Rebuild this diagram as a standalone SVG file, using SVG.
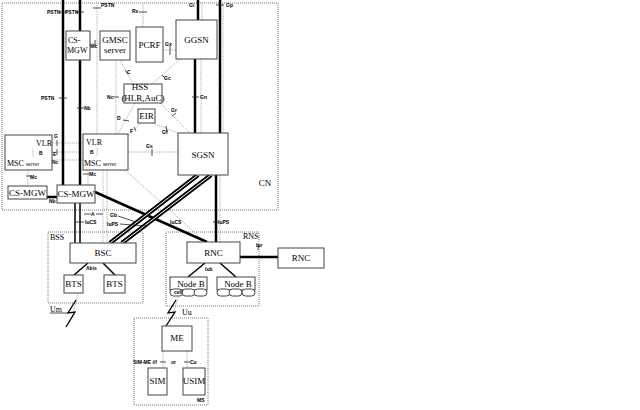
<svg xmlns="http://www.w3.org/2000/svg" width="640" height="410" viewBox="0 0 640 410">
<defs>
<style>
.box{fill:#fff;stroke:#444;stroke-width:1}
.dom{fill:none;stroke:#777;stroke-width:1;stroke-dasharray:1 1}
.sig{fill:none;stroke:#999;stroke-width:0.8;stroke-dasharray:1.2 1}
.thk{stroke:#000;stroke-width:2.5;fill:none}
.med{stroke:#000;stroke-width:1.5;fill:none}
.tk{stroke:#222;stroke-width:0.8}
.dblo{stroke:#000;stroke-width:4.5;fill:none}
.dbli{stroke:#fff;stroke-width:1;fill:none}
.n{font-family:"Liberation Serif",serif;font-size:9px;text-anchor:middle;fill:#000}
.s{font-family:"Liberation Serif",serif;font-size:8px;fill:#000}
.i{font-family:"Liberation Sans",sans-serif;font-size:5px;font-weight:bold;fill:#000}
</style>
</defs>
<rect width="640" height="410" fill="#fff"/>

<g id="domains">
<rect class="dom" x="2" y="3" width="276" height="207"/>
<text class="n" x="265" y="186">CN</text>
<rect class="dom" x="48" y="232" width="95" height="71"/>
<text class="s" x="50" y="240">BSS</text>
<rect class="dom" x="166" y="232" width="93" height="74"/>
<text class="s" x="243" y="239">RNS</text>
<rect class="dom" x="134" y="318" width="74" height="87"/>
<text class="i" x="197" y="402">MS</text>
</g>

<g id="connectors">
<line class="sig" x1="97" y1="3" x2="97" y2="134"/>
<line class="sig" x1="143" y1="3" x2="143" y2="27"/>
<line class="sig" x1="202" y1="3" x2="202" y2="20"/>
<line class="sig" x1="223" y1="3" x2="223" y2="133"/>
<line class="sig" x1="90" y1="44" x2="100" y2="44"/>
<line class="sig" x1="163" y1="50" x2="176" y2="50"/>
<line class="sig" x1="116" y1="60" x2="116" y2="134"/>
<line class="sig" x1="120" y1="60" x2="133" y2="84"/>
<line class="sig" x1="180" y1="59" x2="152" y2="84"/>
<line class="sig" x1="135" y1="103" x2="118" y2="134"/>
<line class="sig" x1="160" y1="103" x2="190" y2="133"/>
<line class="sig" x1="141" y1="123" x2="128" y2="136"/>
<line class="sig" x1="153" y1="123" x2="180" y2="134"/>
<line class="sig" x1="201" y1="59" x2="201" y2="133"/>
<line class="sig" x1="128" y1="152" x2="178" y2="152"/>
<line class="sig" x1="52" y1="143" x2="83" y2="143"/>
<line class="sig" x1="52" y1="152" x2="83" y2="152"/>
<line class="sig" x1="52" y1="160" x2="83" y2="160"/>
<line class="sig" x1="28" y1="170" x2="28" y2="186"/>
<line class="sig" x1="88" y1="170" x2="88" y2="185"/>
<line class="sig" x1="103" y1="170" x2="103" y2="243"/>
<line class="sig" x1="107" y1="170" x2="107" y2="243"/>
<line class="sig" x1="125" y1="170" x2="205" y2="242"/>
<line class="sig" x1="220" y1="175" x2="220" y2="242"/>
<line class="sig" x1="78" y1="293" x2="72" y2="318"/>
<line class="sig" x1="178" y1="297" x2="172" y2="318"/>
<line class="sig" x1="163" y1="351" x2="163" y2="368"/>
<line class="sig" x1="187" y1="351" x2="187" y2="368"/>

<line class="thk" x1="63" y1="0" x2="63" y2="185"/>
<line class="thk" x1="80" y1="0" x2="80" y2="31"/>
<line class="thk" x1="80" y1="60" x2="80" y2="185"/>
<line class="thk" x1="198" y1="0" x2="198" y2="20"/>
<line class="thk" x1="220" y1="0" x2="220" y2="133"/>
<line class="thk" x1="195" y1="59" x2="195" y2="133"/>
<line class="thk" x1="216" y1="175" x2="216" y2="242"/>
<line class="thk" x1="47" y1="197" x2="57" y2="197"/>
<line class="med" x1="75" y1="203" x2="75" y2="243"/>
<line class="med" x1="80" y1="203" x2="80" y2="243"/>
<line class="thk" x1="95" y1="192" x2="207" y2="242"/>
<line class="dblo" x1="198" y1="175" x2="110" y2="243"/>
<line class="dbli" x1="198" y1="175" x2="110" y2="243"/>
<line class="dblo" x1="211" y1="175" x2="122" y2="243"/>
<line class="dbli" x1="211" y1="175" x2="122" y2="243"/>
<line class="thk" x1="240" y1="257" x2="278" y2="257" stroke-width="3"/>
<line class="med" x1="88" y1="263" x2="74" y2="275"/>
<line class="med" x1="103" y1="263" x2="115" y2="275"/>
<line class="med" x1="205" y1="263" x2="188" y2="277"/>
<line class="med" x1="220" y1="263" x2="236" y2="277"/>
<path d="M76,300 L68,313 L75,312 L66,327" fill="none" stroke="#000" stroke-width="1.3"/>
<path d="M176,300 L168,313 L175,312 L166,326" fill="none" stroke="#000" stroke-width="1.3"/>

<line class="tk" x1="59" y1="12" x2="67" y2="12"/>
<line class="tk" x1="76" y1="12" x2="84" y2="12"/>
<line class="tk" x1="93" y1="8" x2="101" y2="8"/>
<line class="tk" x1="139" y1="12" x2="147" y2="12"/>
<line class="tk" x1="216" y1="5" x2="224" y2="5"/>
<line class="tk" x1="95" y1="40" x2="95" y2="47"/>
<line class="tk" x1="170" y1="46" x2="170" y2="55"/>
<line class="tk" x1="59" y1="98" x2="67" y2="98"/>
<line class="tk" x1="77" y1="108" x2="84" y2="108"/>
<line class="tk" x1="113" y1="97" x2="119" y2="97"/>
<line class="tk" x1="192" y1="97" x2="199" y2="97"/>
<line class="tk" x1="125" y1="70" x2="128" y2="74"/>
<line class="tk" x1="162" y1="75" x2="165" y2="78"/>
<line class="tk" x1="123" y1="120" x2="129" y2="121"/>
<line class="tk" x1="172" y1="116" x2="176" y2="113"/>
<line class="tk" x1="134" y1="127" x2="136" y2="131"/>
<line class="tk" x1="166" y1="126" x2="167" y2="132"/>
<line class="tk" x1="152" y1="149" x2="152" y2="156"/>
<line class="tk" x1="57" y1="140" x2="57" y2="146"/>
<line class="tk" x1="57" y1="149" x2="57" y2="155"/>
<line class="tk" x1="26" y1="176" x2="31" y2="176"/>
<line class="tk" x1="83" y1="174" x2="89" y2="174"/>
<line class="tk" x1="84" y1="214" x2="91" y2="214"/>
<line class="tk" x1="96" y1="214" x2="103" y2="214"/>
<line class="tk" x1="76" y1="222" x2="84" y2="222"/>
<line class="tk" x1="118" y1="216" x2="136" y2="222"/>
<line class="tk" x1="120" y1="224" x2="146" y2="226"/>
<line class="tk" x1="213" y1="222" x2="219" y2="222"/>
<line class="tk" x1="258" y1="244" x2="258" y2="250"/>
<line class="tk" x1="50" y1="313" x2="68" y2="313"/>
<line class="tk" x1="160" y1="362" x2="166" y2="362"/>
<line class="tk" x1="184" y1="362" x2="190" y2="362"/>
</g>

<g id="labels">
<text class="i" x="47" y="14">PSTN</text>
<text class="i" x="65" y="14">PSTN</text>
<text class="i" x="101" y="7">PSTN</text>
<text class="i" x="132" y="13">Rx</text>
<text class="i" x="189" y="7">Gi</text>
<text class="i" x="226" y="7">Gp</text>
<text class="i" x="90" y="48">Mc</text>
<text class="i" x="165" y="46">Gx</text>
<text class="i" x="127" y="74">C</text>
<text class="i" x="164" y="80">Gc</text>
<text class="i" x="41" y="100">PSTN</text>
<text class="i" x="84" y="110">Nb</text>
<text class="i" x="107" y="99">Nc</text>
<text class="i" x="200" y="99">Gn</text>
<text class="i" x="117" y="120">D</text>
<text class="i" x="171" y="112">Gr</text>
<text class="i" x="130" y="133">F</text>
<text class="i" x="162" y="134">Gf</text>
<text class="i" x="146" y="148">Gs</text>
<text class="i" x="54" y="138">G</text>
<text class="i" x="53" y="156">E</text>
<text class="i" x="52" y="164">Nc</text>
<text class="i" x="30" y="179">Mc</text>
<text class="i" x="89" y="176">Mc</text>
<text class="i" x="49" y="203">Nb</text>
<text class="i" x="91" y="216">A</text>
<text class="i" x="85" y="224">IuCS</text>
<text class="i" x="110" y="217">Gb</text>
<text class="i" x="107" y="226">IuPS</text>
<text class="i" x="170" y="224">IuCS</text>
<text class="i" x="218" y="224">IuPS</text>
<text class="i" x="256" y="247">Iur</text>
<text class="i" x="86" y="270">Abis</text>
<text class="i" x="205" y="271">Iub</text>
<text class="s" x="50" y="312" font-size="7">Um</text>
<text class="s" x="182" y="315" font-size="7">Uu</text>
<text class="i" x="133" y="364">SIM-ME i/f</text>
<text class="i" x="171" y="364">or</text>
<text class="i" x="190" y="364">Cu</text>
</g>

<g id="cs-mgw-top"><rect class="box" x="66" y="31" width="24" height="29"/><text class="s" x="68" y="43">CS-</text><text class="s" x="67" y="53">MGW</text></g>
<g id="gmsc"><rect class="box" x="100" y="31" width="30" height="29"/><text class="n" x="115" y="43" font-size="8">GMSC</text><text class="n" x="115" y="53" font-size="5">server</text></g>
<g id="pcrf"><rect class="box" x="136" y="27" width="27" height="35"/><text class="n" x="149.5" y="48" font-size="10">PCRF</text></g>
<g id="ggsn"><rect class="box" x="176" y="20" width="41" height="39"/><text class="n" x="196.5" y="43">GGSN</text></g>
<g id="hss"><rect class="box" x="124" y="84" width="38" height="19"/><text class="n" x="140" y="90" font-size="6">HSS</text><text class="n" x="143" y="100.5" font-size="5.5">(HLR,AuC)</text></g>
<g id="eir"><rect class="box" x="138" y="109" width="17" height="14"/><text class="n" x="146.5" y="119" font-size="7">EIR</text></g>
<g id="msc-left"><rect class="box" x="5" y="135" width="47" height="35"/><text class="s" x="36" y="146">VLR</text><line class="sig" x1="33" y1="149" x2="33" y2="157"/><text class="i" x="39" y="155">B</text><text class="s" x="7" y="166">MSC <tspan font-size="5.5">server</tspan></text></g>
<g id="msc-right"><rect class="box" x="83" y="134" width="45" height="36"/><text class="s" x="86" y="145">VLR</text><line class="sig" x1="97" y1="148" x2="97" y2="156"/><text class="i" x="90" y="154">B</text><text class="s" x="84" y="166">MSC <tspan font-size="5.5">server</tspan></text></g>
<g id="sgsn"><rect class="box" x="178" y="133" width="50" height="42"/><text class="n" x="203" y="158" font-size="8">SGSN</text></g>
<g id="cs-mgw-left"><rect class="box" x="8" y="186" width="39" height="13"/><text class="n" x="27.5" y="196" font-size="7.5">CS-MGW</text></g>
<g id="cs-mgw-right"><rect class="box" x="57" y="185" width="38" height="18"/><text class="n" x="76" y="197" font-size="7.5">CS-MGW</text></g>
<g id="bsc"><rect class="box" x="70" y="243" width="66" height="20"/><text class="n" x="103" y="256" font-size="8">BSC</text></g>
<g id="bts1"><rect class="box" x="64" y="275" width="19" height="18"/><text class="n" x="73.5" y="287" font-size="7">BTS</text></g>
<g id="bts2"><rect class="box" x="104" y="275" width="21" height="18"/><text class="n" x="114.5" y="287" font-size="7">BTS</text></g>
<g id="rnc"><rect class="box" x="187" y="242" width="53" height="21"/><text class="n" x="213.5" y="256" font-size="8">RNC</text></g>
<g id="rnc2"><rect class="box" x="278" y="248" width="46" height="20"/><text class="n" x="301" y="261" font-size="8">RNC</text></g>
<g id="nodeb1"><rect class="box" x="170" y="277" width="37" height="13"/><text class="n" x="191" y="287" font-size="7">Node B</text><rect class="box" x="170" y="289" width="13" height="7" rx="3.5"/><rect class="box" x="182" y="289" width="13" height="7" rx="3.5"/><rect class="box" x="194" y="289" width="13" height="7" rx="3.5"/><text class="i" x="174" y="294" font-size="4">cell</text></g>
<g id="nodeb2"><rect class="box" x="217" y="277" width="38" height="13"/><text class="n" x="238" y="287" font-size="7">Node B</text><rect class="box" x="217" y="289" width="13" height="7" rx="3.5"/><rect class="box" x="229" y="289" width="13" height="7" rx="3.5"/><rect class="box" x="242" y="289" width="13" height="7" rx="3.5"/></g>
<g id="me"><rect class="box" x="162" y="326" width="30" height="25"/><text class="n" x="177" y="341" font-size="8">ME</text></g>
<g id="sim"><rect class="box" x="148" y="368" width="19" height="27"/><text class="n" x="157.5" y="384" font-size="7">SIM</text></g>
<g id="usim"><rect class="box" x="183" y="368" width="22" height="27"/><text class="n" x="194" y="384" font-size="7">USIM</text></g>
</svg>
